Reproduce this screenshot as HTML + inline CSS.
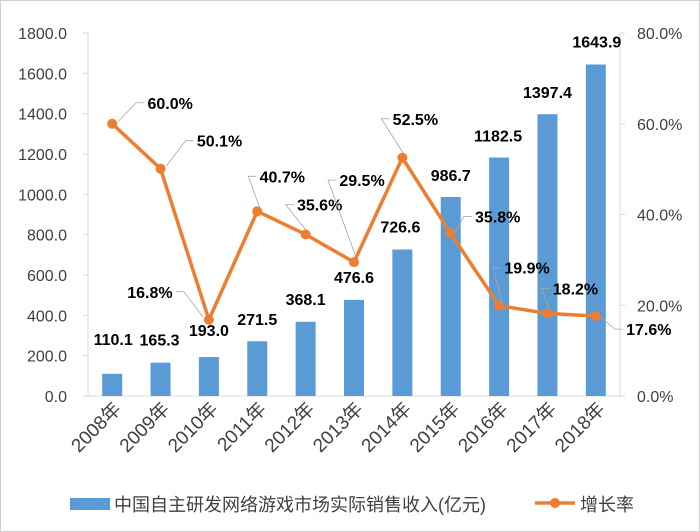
<!DOCTYPE html>
<html><head><meta charset="utf-8"><style>
body{margin:0;background:#fff}
svg{display:block;font-family:"Liberation Sans","Noto Sans CJK SC",sans-serif}
</style></head><body>
<svg id="c" width="700" height="532">
<rect x="0.5" y="0.5" width="699" height="531" fill="#fff" stroke="#d0d0d0"/>
</svg>
<script>
const categories=["2008年","2009年","2010年","2011年","2012年","2013年","2014年","2015年","2016年","2017年","2018年"];
const revenue=[110.1,165.3,193.0,271.5,368.1,476.6,726.6,986.7,1182.5,1397.4,1643.9];
const growth=[60.0,50.1,16.8,40.7,35.6,29.5,52.5,35.8,19.9,18.2,17.6];
const leftTicks=[0,200,400,600,800,1000,1200,1400,1600,1800];
const rightTicks=[0,20,40,60,80];
// label offsets (style, px)
const barLabelDX=[1,-1,0,0,0,0,-2,0,-1,0,1], barLabelDY=[-35,-23,-27,-22,-23,-23,-23,-22,-22,-22,-23];
const pctLabelDX=[58,59,-59,25,14,8,13,47,28,28,53], pctLabelDY=[-21,-28,-28,-35,-30,-82,-39,-17,-38,-25,13];
const svg=document.getElementById('c');const NS='http://www.w3.org/2000/svg';
const X0=88,X1=620,Y0=396,Y1=33;
const bw=(X1-X0)/categories.length;
const xc=i=>X0+bw*(i+0.5);
const yL=v=>Y0-(v/1800)*(Y0-Y1);
const yR=v=>Y0-(v/80)*(Y0-Y1);
function mk(t,a){const e=document.createElementNS(NS,t);for(const k in a)e.setAttribute(k,a[k]);svg.appendChild(e);return e;}
let e=mk('line',{x1:X0,y1:Y1,x2:X0,y2:Y0,stroke:'#d9d9d9'});


e=mk('line',{x1:X1,y1:Y1,x2:X1,y2:Y0,stroke:'#d9d9d9'});


e=mk('line',{x1:X0-5,y1:Y0,x2:X1+5,y2:Y0,stroke:'#d9d9d9'});


leftTicks.forEach(v=>{
 mk('line',{x1:X0-5,y1:yL(v),x2:X0,y2:yL(v),stroke:'#d9d9d9'});
 const t=mk('text',{x:67,y:yL(v)+6,'text-anchor':'end','font-size':16,fill:'#404040'});t.textContent=v.toFixed(1);
 
 
});
rightTicks.forEach(v=>{
 mk('line',{x1:X1,y1:yR(v),x2:X1+5,y2:yR(v),stroke:'#d9d9d9'});
 const t=mk('text',{x:637,y:yR(v)+6,'font-size':16,fill:'#404040'});t.textContent=v.toFixed(1)+'%';
 
 
});
categories.forEach((c,i)=>{
 const ax=xc(i)+10,ay=410;
 const t=mk('text',{x:ax,y:ay,'text-anchor':'end','font-size':19,fill:'#404040',transform:`rotate(-45 ${ax} ${ay})`});t.textContent=c;
 
 
});
revenue.forEach((v,i)=>{
 const r=mk('rect',{x:xc(i)-10,y:yL(v),width:20,height:Y0-yL(v),fill:'#5b9bd5'});
 
 
 const t=mk('text',{x:xc(i)+barLabelDX[i],y:yL(v)+barLabelDY[i]+6,'text-anchor':'middle','font-size':16,'font-weight':'bold',fill:'#000'});t.textContent=v.toFixed(1);
 
 
});
const pts=growth.map((v,i)=>xc(i)+','+yR(v)).join(' ');
e=mk('polyline',{points:pts,fill:'none',stroke:'#ed7d31','stroke-width':3.5,'stroke-linejoin':'round'});


growth.forEach((v,i)=>{
 const px=xc(i),py=yR(v),lx=px+pctLabelDX[i],ly=py+pctLabelDY[i];
 const dx=pctLabelDX[i],dy=pctLabelDY[i];
 const ex=dx>0?lx-26:lx+26;
 mk('polyline',{points:`${px+dx*0.1},${py+dy*0.1} ${ex-(dx>0?8:-8)},${ly} ${ex},${ly}`,fill:'none',stroke:'#a6a6a6','stroke-width':0.8});
 const m=mk('circle',{cx:px,cy:py,r:5,fill:'#ed7d31'});
 
 
 const t=mk('text',{x:lx,y:ly+6,'text-anchor':'middle','font-size':16,'font-weight':'bold',fill:'#000'});t.textContent=v.toFixed(1)+'%';
 
 
});
e=mk('rect',{x:70,y:498,width:40,height:12,fill:'#5b9bd5'});


e=mk('text',{x:114,y:511,'font-size':18,fill:'#404040'});e.textContent='中国自主研发网络游戏市场实际销售收入(亿元)';


e=mk('line',{x1:535,y1:503,x2:575,y2:503,stroke:'#ed7d31','stroke-width':3.5});


mk('circle',{cx:555,cy:503,r:5,fill:'#ed7d31'});
e=mk('text',{x:580,y:511,'font-size':18,fill:'#404040'});e.textContent='增长率';


</script>
</body></html>
